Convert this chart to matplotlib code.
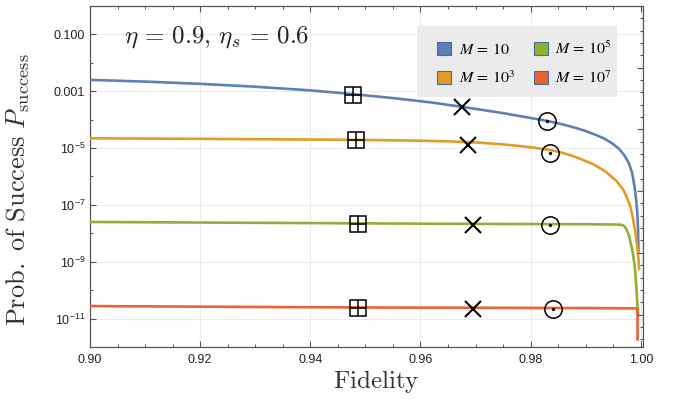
import numpy as np
import matplotlib
matplotlib.use("Agg")
import matplotlib.pyplot as plt
from matplotlib.patches import Patch, Rectangle
from matplotlib.font_manager import FontProperties
from matplotlib.ticker import FixedLocator, NullFormatter

plt.rcParams["font.family"] = ["Liberation Sans", "DejaVu Sans"]
plt.rcParams["mathtext.fontset"] = "custom"
plt.rcParams["mathtext.rm"] = "Liberation Sans"
plt.rcParams["mathtext.it"] = "Liberation Sans:italic"

# ---- success probability vs fidelity (log10 of P_success) ----
fid_m10 = [0.900, 0.910, 0.920, 0.930, 0.940, 0.9477, 0.955, 0.9618, 0.9676,
           0.975, 0.9829, 0.9853, 0.988, 0.990, 0.992, 0.9935, 0.995, 0.996,
           0.997, 0.9978, 0.9984, 0.9989, 0.9992, 0.9994, 0.9995, 0.99958]
logp_m10 = [-2.60, -2.66, -2.74, -2.84, -2.97, -3.10, -3.24, -3.39, -3.55,
            -3.77, -4.04, -4.14, -4.28, -4.40, -4.55, -4.68, -4.86, -5.02,
            -5.25, -5.52, -5.85, -6.40, -6.90, -7.40, -7.85, -8.67]

fid_m1e3 = [0.900, 0.920, 0.940, 0.950, 0.960, 0.965, 0.970, 0.975, 0.980,
            0.9836, 0.9853, 0.9875, 0.9889, 0.9913, 0.9935, 0.99559, 0.9968,
            0.9974, 0.9980, 0.9983, 0.9986, 0.9990, 0.99934, 0.9996, 0.9997]
logp_m1e3 = [-4.655, -4.675, -4.70, -4.715, -4.74, -4.765, -4.80, -4.87, -4.97,
             -5.07, -5.14, -5.27, -5.37, -5.56, -5.81, -6.16, -6.46,
             -6.70, -7.00, -7.22, -7.50, -7.95, -8.45, -8.95, -9.30]

fid_m1e5 = [0.900, 0.930, 0.960, 0.990, 0.9955, 0.9965, 0.9970, 0.9974,
            0.9978, 0.9983, 0.9986, 0.9989, 0.99922, 0.9995]
logp_m1e5 = [-7.60, -7.63, -7.66, -7.68, -7.69, -7.70, -7.74, -7.86,
             -8.05, -8.45, -8.75, -9.15, -9.96, -10.90]

fid_m1e7 = [0.900, 0.950, 0.990, 0.9992, 0.9994, 0.99942]
logp_m1e7 = [-10.56, -10.61, -10.63, -10.64, -10.66, -11.78]

labels = [r"$M\,=\,10$", r"$M\,=\,10^3$", r"$M\,=\,10^5$", r"$M\,=\,10^7$"]
colors = ["#5E81B5", "#E19C24", "#8FB032", "#EB6235"]

# reference points on each curve: boxed plus, cross, circled dot
box_fid = [0.9477, 0.9483, 0.9487, 0.9487]
box_logp = [-3.12, -4.73, -7.66, -10.64]
cross_fid = [0.9676, 0.9686, 0.9695, 0.9696]
cross_logp = [-3.55, -4.88, -7.71, -10.67]
dot_fid = [0.9829, 0.9836, 0.9836, 0.9841]
dot_logp = [-4.04, -5.17, -7.71, -10.67]

y_tick_vals = [1e-1, 1e-3, 1e-5, 1e-7, 1e-9, 1e-11]
y_tick_labels = ["0.100", "0.001", r"$10^{-5}$", r"$10^{-7}$", r"$10^{-9}$", r"$10^{-11}$"]
x_tick_vals = [0.90, 0.92, 0.94, 0.96, 0.98, 1.00]

fig = plt.figure(figsize=(6.74, 4.0), dpi=100)
ax = fig.add_axes([90 / 674, 53 / 400, 553 / 674, 341 / 400])

curves = [(fid_m10, logp_m10), (fid_m1e3, logp_m1e3),
          (fid_m1e5, logp_m1e5), (fid_m1e7, logp_m1e7)]
for (f, lp), c in zip(curves, colors):
    ax.plot(f, 10.0 ** np.array(lp), color=c, lw=1.9, solid_capstyle="butt",
            solid_joinstyle="round", zorder=3)

mk = dict(linestyle="none", color="black", zorder=5)
bp = 10.0 ** np.array(box_logp)
ax.plot(box_fid, bp, marker="s", ms=12.0, mfc="none", mew=1.1, **mk)
ax.plot(box_fid, bp, marker="+", ms=12.0, mew=1.1, **mk)
ax.plot(cross_fid, 10.0 ** np.array(cross_logp), marker="x", ms=11.5, mew=1.5, **mk)
dp = 10.0 ** np.array(dot_logp)
ax.plot(dot_fid, dp, marker="o", ms=12.5, mfc="none", mew=1.1, **mk)
ax.plot(dot_fid, dp, marker="o", ms=2.4, mew=0, **mk)

ax.set_yscale("log")
ax.set_xlim(0.9, 1.0004)
ax.set_ylim(1e-12, 1.0)

frame_col = "#555555"
for s in ax.spines.values():
    s.set_color(frame_col)
    s.set_linewidth(0.9)

ax.set_xticks(x_tick_vals)
ax.set_xticklabels([f"{v:.2f}" for v in x_tick_vals])
ax.xaxis.set_minor_locator(FixedLocator(np.arange(0.9, 1.0001, 0.005)))
ax.set_yticks(y_tick_vals)
ax.set_yticklabels(y_tick_labels)
ax.yaxis.set_minor_locator(FixedLocator([1e-2, 1e-4, 1e-6, 1e-8, 1e-10]))
ax.yaxis.set_minor_formatter(NullFormatter())
ax.tick_params(which="both", direction="in", colors=frame_col, labelcolor="#222222",
               labelsize=9, top=True, right=False)
ax.tick_params(which="major", length=4.0, width=0.8)
ax.tick_params(which="minor", length=2.5, width=0.7)
ax.tick_params(axis="x", pad=5)

# right frame ticks at powers of e
rax = ax.twinx()
rax.set_yscale("log")
rax.set_ylim(ax.get_ylim())
rax.yaxis.set_major_locator(FixedLocator([np.exp(-k) for k in range(5, 28, 5)]))
rax.yaxis.set_minor_locator(FixedLocator([np.exp(-k) for k in range(1, 28) if k % 5]))
rax.yaxis.set_major_formatter(NullFormatter())
rax.yaxis.set_minor_formatter(NullFormatter())
rax.tick_params(which="both", direction="in", colors=frame_col, width=0.8)
rax.tick_params(which="major", length=4.0)
rax.tick_params(which="minor", length=2.5)
for s in rax.spines.values():
    s.set_visible(False)

ax.grid(True, which="major", color="#EBEBEB", lw=0.8, zorder=0)
ax.set_axisbelow(True)

ax.set_xlabel(r"$\mathrm{Fidelity}$", fontsize=18, color="#333333", math_fontfamily="cm")
ax.xaxis.set_label_coords(0.517, -0.062)
ax.set_ylabel(r"$\mathrm{Prob.\ of\ Success}\ P_{\mathrm{success}}$", fontsize=19,
              color="#333333", math_fontfamily="cm")
ax.yaxis.set_label_coords(-0.105, 0.46)

ax.text(0.0615, 0.909, r"$\eta\,=\,0.9,\,\eta_s\,=\,0.6$", transform=ax.transAxes,
        fontsize=18, color="#222222", va="center", ha="left", math_fontfamily="cm")

# legend panel
ax.add_patch(Rectangle(((417 - 90) / 553, (347 - 97) / 341), 200 / 553, 71 / 341,
                       transform=ax.transAxes, facecolor="#EBEBEB", edgecolor="none",
                       zorder=4))
handles = [Patch(facecolor=c, edgecolor="#4A6A9A", linewidth=0.8, label=l)
           for c, l in zip(colors, labels)]
leg_font = FontProperties(size=11.5, math_fontfamily="stix")
leg = ax.legend(handles=handles, ncol=2, loc="upper left",
                bbox_to_anchor=((437 - 90) / 553, (347 - 39.5) / 341), prop=leg_font,
                frameon=False, borderpad=0.0, labelspacing=0.8,
                handlelength=0.9, handleheight=0.9, handletextpad=0.45,
                columnspacing=1.2, borderaxespad=0.0)
leg.set_zorder(6)

fig.savefig("out.png", dpi=100)
